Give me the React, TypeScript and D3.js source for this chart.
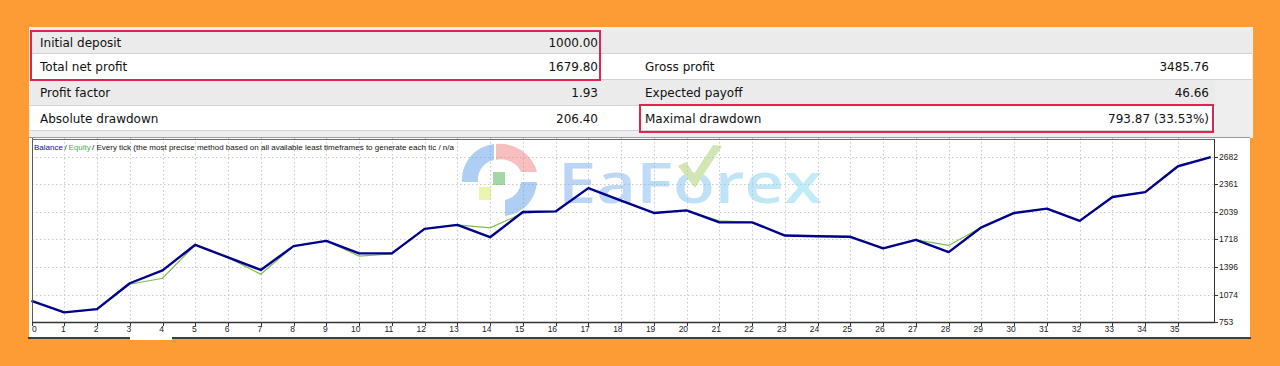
import React from "react";
import * as d3 from "d3";

// ---- data ----
const tradeNumbers = [0,1,2,3,4,5,6,7,8,9,10,11,12,13,14,15,16,17,18,19,20,21,22,23,24,25,26,27,28,29,30,31,32,33,34,35,36];
const balance = [1000, 866, 904, 1206, 1357, 1656, 1508, 1361, 1640, 1702, 1555, 1555, 1842, 1888, 1744, 2039, 2046, 2318, 2173, 2028, 2058, 1918, 1918, 1764, 1756, 1749, 1613, 1714, 1570, 1860, 2028, 2078, 1935, 2214, 2272, 2574, 2680];
const equity = [1000, 866, 904, 1195, 1264, 1656, 1508, 1311, 1640, 1702, 1523, 1548, 1842, 1888, 1853, 2025, 2046, 2318, 2173, 2028, 2058, 1935, 1918, 1764, 1756, 1749, 1613, 1714, 1648, 1860, 2028, 2078, 1935, 2214, 2272, 2574, 2680];
const yTicks = [753, 1074, 1396, 1718, 2039, 2361, 2682];
const xTickLabels = ["0","1","2","3","4","5","6","7","8","9","10","11","12","13","14","15","16","17","18","19","20","21","22","23","24","25","26","27","28","29","30","31","32","33","34","35"];

const statLabelsLeft = ["Initial deposit", "Total net profit", "Profit factor", "Absolute drawdown"];
const statValuesLeft = ["1000.00", "1679.80", "1.93", "206.40"];
const statLabelsRight = ["", "Gross profit", "Expected payoff", "Maximal drawdown"];
const statValuesRight = ["", "3485.76", "46.66", "793.87 (33.53%)"];

const headerBalance = "Balance";
const headerEquity = "Equity";
const headerRest = "/ Every tick (the most precise method based on all available least timeframes to generate each tic / n/a";

const W = 1280, H = 366;
const TF = "'DejaVu Sans', Tahoma, sans-serif";
const SF = "'Liberation Sans', Arial, sans-serif";

export default function App() {
  const plot = { left: 32, right: 1214, top: 138, bottom: 322 };
  const x = d3.scaleLinear().domain([0, 36.1]).range([31.5, 1214]);
  const y = d3.scaleLinear().domain([753, 2682]).range([322, 157]);
  const line = d3.line<number>().x((_, i) => x(tradeNumbers[i])).y((d) => y(d));

  const rowTops = [30, 54, 80, 106];
  const rowBottoms = [54, 80, 106, 131];
  const rowFills = ["#EBEBEB", "#FFFFFF", "#EBEBEB", "#FFFFFF"];
  const rowRight = [1252, 1252, 1215, 1215];

  return (
    <svg width={W} height={H} style={{ display: "block", position: "absolute", left: 0, top: 0 }}>
      <defs>
        <linearGradient id="wm" x1="0" x2="1" y1="0" y2="0">
          <stop offset="0%" stopColor="#7aa8ee" />
          <stop offset="100%" stopColor="#86dcf0" />
        </linearGradient>
      </defs>
      <rect x={0} y={0} width={W} height={H} fill="#FD9B35" />
      {/* panel */}
      <rect x={29} y={27} width={1224} height={111} fill="#EEEEEE" />
      {rowTops.map((t, i) => (
        <g key={i}>
          <rect x={30} y={t} width={rowRight[i] - 30} height={rowBottoms[i] - t} fill={rowFills[i]} />
          <line x1={30} x2={rowRight[i]} y1={rowBottoms[i] - 0.5} y2={rowBottoms[i] - 0.5} stroke="#D2D2D2" />
          <text x={40} y={rowTops[i] + 17} fontFamily={TF} fontSize={12} fill="#111">{statLabelsLeft[i]}</text>
          <text x={598} y={rowTops[i] + 17} fontFamily={TF} fontSize={12} fill="#111" textAnchor="end">{statValuesLeft[i]}</text>
          {statLabelsRight[i] && (
            <text x={645} y={rowTops[i] + 17} fontFamily={TF} fontSize={12} fill="#111">{statLabelsRight[i]}</text>
          )}
          {statValuesRight[i] && (
            <text x={1209} y={rowTops[i] + 17} fontFamily={TF} fontSize={12} fill="#111" textAnchor="end">{statValuesRight[i]}</text>
          )}
        </g>
      ))}
      <rect x={31} y={31} width={569} height={49} fill="none" stroke="#E0244F" strokeWidth={2} />
      <rect x={640} y={105} width={573} height={27} fill="none" stroke="#E0244F" strokeWidth={2} />

      {/* chart area */}
      <rect x={29} y={137} width={1221} height={200} fill="#FFFFFF" />
      <rect x={28} y={337} width={1223} height={2} fill="#3E3E3E" />
      <rect x={130} y={337} width={42} height={3} fill="#FFFFFF" />
      <line x1={29} x2={1250} y1={137.5} y2={137.5} stroke="#9A9A9A" />

      {/* grid */}
      {yTicks.slice(1).map((t) => (
        <line key={"gy" + t} x1={plot.left} x2={plot.right} y1={Math.round(y(t)) + 0.5} y2={Math.round(y(t)) + 0.5}
          stroke="#C8C8C8" strokeDasharray="1.5,2.5" />
      ))}
      {xTickLabels.slice(1).map((l, i) => (
        <line key={"gx" + l} x1={Math.round(x(i + 1)) + 0.5} x2={Math.round(x(i + 1)) + 0.5} y1={plot.top} y2={plot.bottom}
          stroke="#C8C8C8" strokeDasharray="1.5,2.5" />
      ))}

      {/* watermark */}
      <g opacity={0.5}>
        <path d="M 462 182 A 36 36 0 0 1 494 144 L 494 160 A 20 20 0 0 0 478 182 Z" fill="#5f9fea" />
        <path d="M 496 144 A 38 38 0 0 1 537 172 L 521 172 A 22 22 0 0 0 496 160 Z" fill="#f08080" />
        <rect x={493} y={172} width={12} height={13} fill="#4caf50" />
        <rect x={479} y={187} width={12} height={13} fill="#d8ec60" />
        <path d="M 537 182 A 36 36 0 0 1 505 216 L 505 200 A 20 20 0 0 0 521 182 Z" fill="#5f9fea" />
        <text x={558} y={203} fontFamily="'Open Sans', sans-serif" fontSize={56} fontWeight={600}
          fill="url(#wm)" textLength={264} lengthAdjust="spacingAndGlyphs">EaForex</text>
        <path d="M 678 166 L 695 188 L 722 146 L 713 145 L 694 174 L 686 162 Z" fill="#a6cf6a" />
      </g>

      {/* lines */}
      <path d={line(equity) || ""} fill="none" stroke="#7DBE4E" strokeWidth={1.2} />
      <path d={line(balance) || ""} fill="none" stroke="#00008B" strokeWidth={2.4} strokeLinejoin="round" />

      {/* frame & axes */}
      <line x1={32.5} x2={32.5} y1={138} y2={322} stroke="#5A5A5A" />
      <line x1={32} x2={1215} y1={139.5} y2={139.5} stroke="#6A6A6A" />
      <line x1={1214.5} x2={1214.5} y1={139} y2={323} stroke="#333" />
      <line x1={32} x2={1215} y1={322.5} y2={322.5} stroke="#333" strokeWidth={1.6} />
      {yTicks.map((t) => (
        <g key={"yt" + t}>
          <line x1={1214} x2={1218} y1={Math.round(y(t)) + 0.5} y2={Math.round(y(t)) + 0.5} stroke="#333" />
          <text x={1219} y={y(t) + 3} fontFamily={SF} fontSize={8.5} fill="#222">{t}</text>
        </g>
      ))}
      {xTickLabels.map((l, i) => (
        <g key={"xt" + l}>
          <line x1={Math.round(x(i)) + 0.5} x2={Math.round(x(i)) + 0.5} y1={322} y2={326} stroke="#333" />
          <text x={i === 0 ? 32 : x(i) + 1.5} y={332} fontFamily={SF} fontSize={8.5} fill="#222"
            textAnchor={i === 0 ? "start" : "end"}>{l}</text>
        </g>
      ))}

      {/* header */}
      <text x={34} y={150} fontFamily={SF} fontSize={8} fill="#1010A0">{headerBalance}</text>
      <text x={64.5} y={150} fontFamily={SF} fontSize={8} fill="#111">/</text>
      <text x={68.5} y={150} fontFamily={SF} fontSize={8} fill="#4CAF50">{headerEquity}</text>
      <text x={92} y={150} fontFamily={SF} fontSize={8} fill="#111">{headerRest}</text>
    </svg>
  );
}
